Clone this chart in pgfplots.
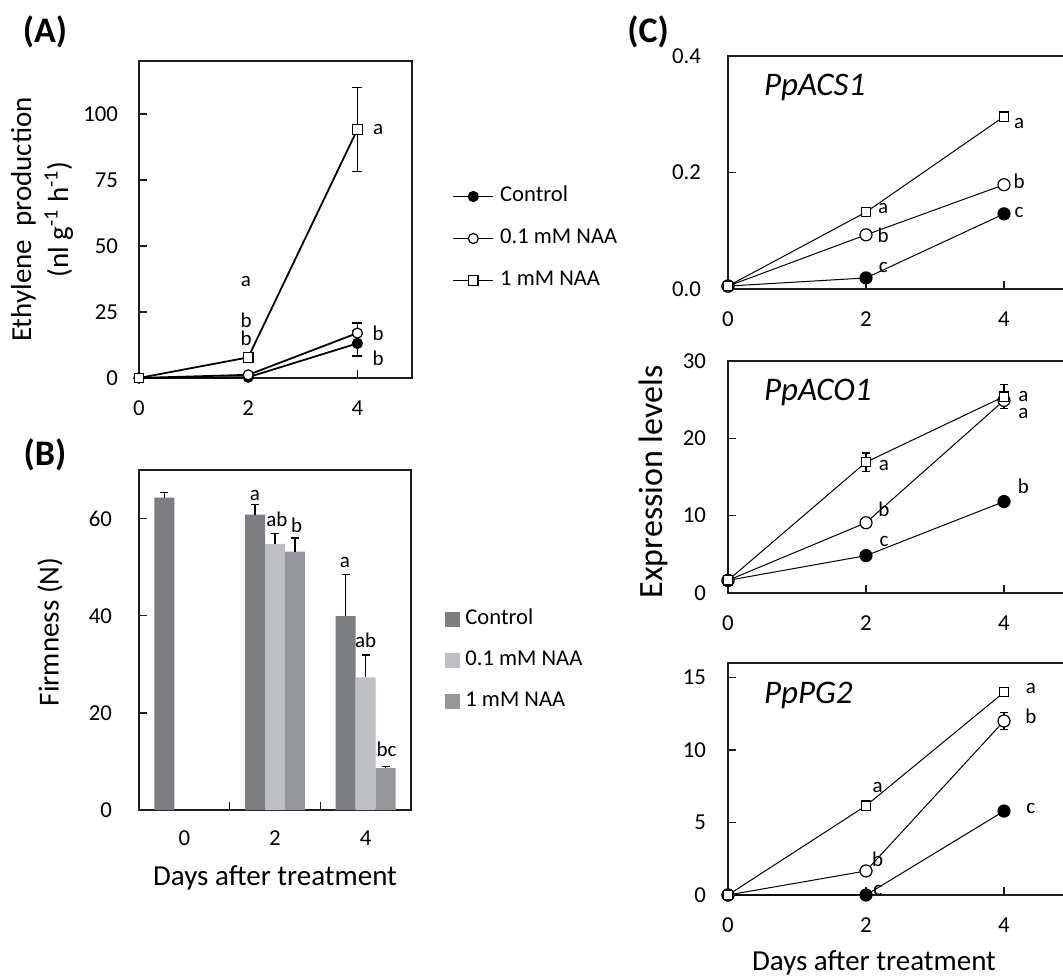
\documentclass[border=0pt]{standalone}
\usepackage{fontspec}
\setmainfont{Carlito}
\usepackage{pgfplots}
\pgfplotsset{compat=1.18}

\definecolor{barA}{RGB}{125,126,130}
\definecolor{barB}{RGB}{190,191,195}
\definecolor{barC}{RGB}{149,150,154}
\definecolor{axc}{RGB}{30,30,30}

\tikzset{
  lett/.style={anchor=base, inner sep=0pt, font=\fontsize{10.5}{12}\selectfont},
  gene/.style={anchor=west, font=\itshape\fontsize{16.5}{19}\selectfont},
}

\pgfplotsset{
  base/.style={
    scale only axis,
    anchor=south west,
    axis line style={line width=0.9pt, color=axc},
    tick align=inside,
    tick pos=left,
    major tick length=4pt,
    tick style={line width=0.7pt, color=axc},
    /pgf/number format/assume math mode=true,
    ticklabel style={font=\fontsize{11.4}{13}\selectfont},
    label style={font=\fontsize{14.5}{18.5}\selectfont},
    clip=false,
  },
  ctl/.style={black, line width=#1, mark=*, mark options={fill=black, line width=0.6pt}},
  naa01/.style={black, line width=#1, mark=*, mark options={fill=white, line width=0.6pt}},
  naa1/.style={black, line width=#1, mark=square*, mark options={fill=white, line width=0.6pt}},
  eb/.style={draw=none, forget plot, mark=none, error bars/.cd, y dir=both, y explicit,
     error bar style={line width=0.6pt, draw=black},
     error mark options={rotate=90, draw=black, mark size=#1, line width=0.6pt}},
  ebplus/.style={draw=none, forget plot, mark=none, error bars/.cd, y dir=plus, y explicit,
     error bar style={line width=0.6pt, draw=black},
     error mark options={rotate=90, draw=black, mark size=2pt, line width=0.6pt}},
  cpanel/.style={base, width=172.5pt, xmin=0, xmax=5, xtick={0,2,4},
     xticklabel style={yshift=-8pt}, yticklabel style={xshift=-7.5pt}},
}

\begin{document}
\begin{tikzpicture}
\useasboundingbox (0,0) rectangle (531.5pt,487.5pt);

% ---------------- Panel A ----------------
\begin{axis}[base, at={(69.5pt,298.5pt)}, width=136.5pt, height=158.5pt,
  xmin=0, xmax=5, ymin=0, ymax=120, xtick={0,2,4}, ytick={0,25,50,75,100},
  yticklabel style={xshift=-7pt}, xticklabel style={yshift=-7.8pt},
  ylabel={Ethylene\ \ production\\(nl g\textsuperscript{-1} h\textsuperscript{-1})},
  ylabel style={at={(axis description cs:-0.355,0.5)}, anchor=center, align=center},
  legend style={at={(axis description cs:1.1465,0.44)}, anchor=west, draw=none, fill=none,
     inner sep=0pt, font=\fontsize{11.3}{13}\selectfont, row sep=10pt, column sep=3pt,
     nodes={inner sep=0pt, text height=8pt, text depth=3pt}},
  legend cell align=left,
  legend image code/.code={\draw[mark repeat=2,mark phase=2,#1] plot coordinates {(0pt,0pt) (10pt,0pt) (20pt,0pt)};},
]
\addplot[eb=2.5pt] coordinates {(4,13.1) +- (0,4.8)};
\addplot[eb=2.5pt] coordinates {(4,17.0) +- (0,3.8)};
\addplot[eb=2.5pt] coordinates {(4,94.1) +- (0,16.0)};
\addplot[ctl=0.9pt, mark size=2.5pt] coordinates {(0,0) (2,0.3) (4,13.1)};
\addlegendentry{Control}
\addplot[naa01=0.9pt, mark size=2.5pt] coordinates {(0,0) (2,1.2) (4,17.0)};
\addlegendentry{0.1 mM NAA}
\addplot[naa1=0.9pt, mark size=2.4pt] coordinates {(0,0) (2,7.8) (4,94.1)};
\addlegendentry{1 mM NAA}
\node[lett] at (axis cs:1.96,34.6) {a};
\node[lett] at (axis cs:1.96,19.2) {b};
\node[lett] at (axis cs:1.96,12.4) {b};
\node[lett] at (axis cs:4.38,92.2) {a};
\node[lett] at (axis cs:4.38,14.1) {b};
\node[lett] at (axis cs:4.38,4.9) {b};
\end{axis}

% ---------------- Panel B ----------------
\begin{axis}[base, at={(69.5pt,82.5pt)}, width=136pt, height=170pt,
  xmin=0, xmax=3, ymin=0, ymax=70, ytick={0,20,40,60},
  xtick={0.5,1.5,2.5}, xticklabels={0,2,4}, xtick style={draw=none},
  extra x ticks={1,2}, extra x tick labels={}, extra x tick style={xtick style={draw=axc, line width=0.7pt}},
  yticklabel style={xshift=-10pt}, xticklabel style={yshift=-7pt},
  ylabel={Firmness (N)},
  ylabel style={at={(axis description cs:-0.327,0.524)}, anchor=center},
  xlabel={Days after treatment},
  xlabel style={at={(axis description cs:0.5,-0.2)}, anchor=center},
  legend style={at={(axis description cs:1.125,0.441)}, anchor=west, draw=none, fill=none,
     inner sep=0pt, font=\fontsize{11.3}{13}\selectfont, row sep=9.5pt, column sep=2.5pt,
     nodes={inner sep=0pt, text height=8pt, text depth=3pt}},
  legend cell align=left,
]
\addplot[ybar, bar width=0.22, bar shift=-0.22, fill=barA, draw=none,
  legend image code/.code={\fill[barA] (0pt,-3.75pt) rectangle (7.5pt,3.75pt);}]
  coordinates {(0.5,64.3) (1.5,60.8) (2.5,39.9)};
\addlegendentry{Control}
\addplot[ybar, bar width=0.22, bar shift=0, fill=barB, draw=none,
  legend image code/.code={\fill[barB] (0pt,-3.75pt) rectangle (7.5pt,3.75pt);}]
  coordinates {(1.5,54.8) (2.5,27.3)};
\addlegendentry{0.1 mM NAA}
\addplot[ybar, bar width=0.22, bar shift=0.22, fill=barC, draw=none,
  legend image code/.code={\fill[barC] (0pt,-3.75pt) rectangle (7.5pt,3.75pt);}]
  coordinates {(1.5,53.2) (2.5,8.6)};
\addlegendentry{1 mM NAA}
% error bars (upper only), at the bar centres
\addplot[ebplus] coordinates {(0.28,64.3) +- (0,1.0) (1.28,60.8) +- (0,2.1) (2.28,39.9) +- (0,8.6)};
\addplot[ebplus] coordinates {(1.5,54.8) +- (0,2.2) (2.5,27.3) +- (0,4.6)};
\addplot[ebplus] coordinates {(1.72,53.2) +- (0,2.8) (2.72,8.6) +- (0,0.3)};
\node[lett] at (axis cs:1.279,63.7) {a};
\node[lett] at (axis cs:1.52,58.4) {ab};
\node[lett] at (axis cs:1.74,57.2) {b};
\node[lett] at (axis cs:2.27,50.0) {a};
\node[lett] at (axis cs:2.50,33.5) {ab};
\node[lett] at (axis cs:2.73,11.0) {bc};
\end{axis}

% ---------------- Panel C1: PpACS1 ----------------
\begin{axis}[cpanel, at={(364pt,343pt)}, height=116.5pt,
  ymin=0, ymax=0.4, ytick={0,0.2,0.4},
  yticklabel style={xshift=-2.5pt, /pgf/number format/.cd, fixed, fixed zerofill, precision=1},
]
\addplot[ctl=0.5pt, mark size=3pt] coordinates {(0,0.005) (2,0.019) (4,0.129)};
\addplot[naa01=0.5pt, mark size=3pt] coordinates {(0,0.005) (2,0.093) (4,0.179)};
\addplot[naa1=0.5pt, mark size=2.3pt] coordinates {(0,0.005) (2,0.132) (4,0.296)};
\node[gene] at (rel axis cs:0.084,0.863) {PpACS1};
\node[lett] at (axis cs:2.25,0.130) {a};
\node[lett] at (axis cs:2.25,0.079) {b};
\node[lett] at (axis cs:2.25,0.029) {c};
\node[lett] at (axis cs:4.22,0.276) {a};
\node[lett] at (axis cs:4.22,0.173) {b};
\node[lett] at (axis cs:4.22,0.122) {c};
\end{axis}

% ---------------- Panel C2: PpACO1 ----------------
\begin{axis}[cpanel, at={(364pt,191.15pt)}, height=115.85pt,
  ymin=0, ymax=30, ytick={0,10,20,30},
  ylabel={Expression levels},
  ylabel style={at={(axis description cs:-0.217,0.478)}, anchor=center, font=\fontsize{17}{20}\selectfont},
]
\addplot[eb=2pt] coordinates {(4,11.8) +- (0,0.5)};
\addplot[eb=2pt] coordinates {(4,24.9) +- (0,1.0)};
\addplot[eb=2pt] coordinates {(2,16.9) +- (0,1.2) (4,25.4) +- (0,1.6)};
\addplot[ctl=0.5pt, mark size=3pt] coordinates {(0,1.6) (2,4.8) (4,11.8)};
\addplot[naa01=0.5pt, mark size=3pt] coordinates {(0,1.6) (2,9.06) (4,24.9)};
\addplot[naa1=0.5pt, mark size=2.3pt] coordinates {(0,1.6) (2,16.9) (4,25.4)};
\node[gene] at (rel axis cs:0.084,0.866) {PpACO1};
\node[lett] at (axis cs:2.26,15.8) {a};
\node[lett] at (axis cs:2.26,9.9) {b};
\node[lett] at (axis cs:2.26,6.0) {c};
\node[lett] at (axis cs:4.28,24.7) {a};
\node[lett] at (axis cs:4.28,22.5) {a};
\node[lett] at (axis cs:4.28,12.9) {b};
\end{axis}

% ---------------- Panel C3: PpPG2 ----------------
\begin{axis}[cpanel, at={(364pt,40pt)}, height=116pt,
  ymin=0, ymax=16, ytick={0,5,10,15},
  xlabel={Days after treatment},
  xlabel style={at={(axis description cs:0.423,-0.293)}, anchor=center},
]
\addplot[eb=2pt] coordinates {(4,12.0) +- (0,0.6)};
\addplot[ctl=0.5pt, mark size=3pt] coordinates {(0,0) (2,0) (4,5.79)};
\addplot[naa01=0.5pt, mark size=3pt] coordinates {(0,0) (2,1.66) (4,12.0)};
\addplot[naa1=0.5pt, mark size=2.3pt] coordinates {(0,0) (2,6.16) (4,13.98)};
\node[gene] at (rel axis cs:0.084,0.862) {PpPG2};
\node[lett] at (axis cs:2.17,7.1) {a};
\node[lett] at (axis cs:2.17,2.0) {b};
\node[lett] at (axis cs:2.17,0.0) {c};
\node[lett] at (axis cs:4.39,13.9) {a};
\node[lett] at (axis cs:4.39,11.8) {b};
\node[lett] at (axis cs:4.39,5.6) {c};
\end{axis}

% panel letters
\node[font=\bfseries\fontsize{18}{21}\selectfont] at (22.5pt,471.5pt) {(A)};
\node[font=\bfseries\fontsize{18}{21}\selectfont] at (22.5pt,260pt) {(B)};
\node[font=\bfseries\fontsize{18}{21}\selectfont] at (324pt,471.5pt) {(C)};
\end{tikzpicture}
\end{document}
